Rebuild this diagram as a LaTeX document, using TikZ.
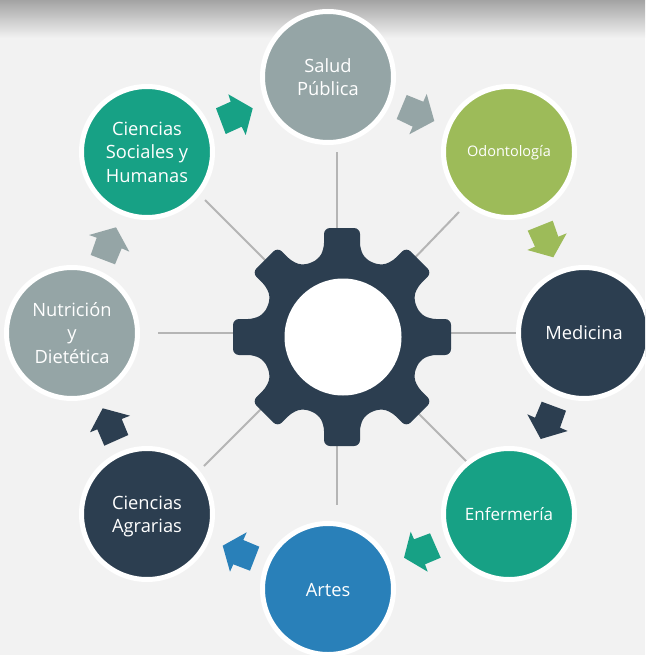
\documentclass[tikz,border=0pt]{standalone}
\usepackage{fontspec}
\setmainfont{Open Sans}
\definecolor{bgc}{HTML}{F2F2F2}
\definecolor{teal}{HTML}{17A185}
\definecolor{graygreen}{HTML}{95A5A6}
\definecolor{olive}{HTML}{9DBB59}
\definecolor{navy}{HTML}{2C3E50}
\definecolor{bluec}{HTML}{2980B9}
\definecolor{linec}{HTML}{B5B5B5}
\tikzset{
  disc/.style={circle,draw=white,line width=5pt,minimum size=131pt,inner sep=0pt,
    text=white,align=center,font=\fontsize{18.3}{23.5}\selectfont},
  spoke/.style={draw=linec,line width=2pt},
}
\begin{document}
\begin{tikzpicture}[x=1pt,y=-1pt]
\useasboundingbox (0,0) rectangle (645,655);
\clip (0,0) rectangle (645,655);
\fill[bgc] (0,0) rectangle (645,655);
\shade[top color=black!36,bottom color=bgc] (0,0) rectangle (645,38);
% spoke ends
\coordinate (hN) at (337,260); \coordinate (eN) at (337,152);
\coordinate (hS) at (337,420); \coordinate (eS) at (337,505);
\coordinate (hW) at (260,333); \coordinate (eW) at (158,333);
\coordinate (hE) at (430,333); \coordinate (eE) at (517,333);
\coordinate (hNW) at (275,270); \coordinate (eNW) at (205,200);
\coordinate (hNE) at (405,268); \coordinate (eNE) at (459,212);
\coordinate (hSE) at (405,400); \coordinate (eSE) at (467,462);
\coordinate (hSW) at (270,400); \coordinate (eSW) at (204,466);
\foreach \a/\b in {hN/eN,hS/eS,hW/eW,hE/eE,hNW/eNW,hNE/eNE,hSE/eSE,hSW/eSW}
  \draw[spoke] (\a) -- (\b);
% gear
\fill[navy,rounded corners=6pt] ([shift={(342,337)},rotate=-22.5]80.5,0)
  \foreach \a in {0,45,...,315} {
    -- ([shift={(342,337)},rotate=\a-17]81,0)
    -- ([shift={(342,337)},rotate=\a]88,18)
    -- ([shift={(342,337)},rotate=\a]109,18)
    -- ([shift={(342,337)},rotate=\a]109,-18)
    -- ([shift={(342,337)},rotate=\a]88,-18)
    -- ([shift={(342,337)},rotate=\a+17]81,0)
  } -- cycle;
\node[circle,fill=white,minimum size=117pt,inner sep=0pt] (hub) at (343,337) {};
% discs
\node[disc,fill=graygreen] (salud) at (328,77) {Salud\\Pública};
\node[disc,fill=olive,font=\fontsize{14.5}{18}\selectfont] (odonto) at (509,152) {\rule{0pt}{13pt}Odontología};
\node[disc,fill=navy] (medicina) at (584,333) {Medicina};
\node[disc,fill=teal,font=\fontsize{17}{23}\selectfont] (enfermeria) at (509,514) {Enfermería};
\node[disc,fill=bluec] (artes) at (328,589) {\rule{0pt}{16pt}Artes};
\node[disc,fill=navy] (agrarias) at (147,514) {\rule{0pt}{18pt}Ciencias\\Agrarias};
\node[disc,fill=graygreen] (nutricion) at (72,333) {Nutrición\\y\\Dietética};
\node[disc,fill=teal] (sociales) at (147,152) {Ciencias\\Sociales y\\Humanas};
% block arrows
\fill[teal] (228.3,94.3) -- (252.7,108.3) -- (245.7,135) -- (241.7,126.7) -- (225.7,134) -- (216,108.3) -- (230.7,101.7) -- cycle;
\fill[graygreen] (406.7,95) -- (423.3,101.7) -- (426.7,94) -- (434.3,121) -- (409.3,134.3) -- (412.7,126.7) -- (396.7,119) -- cycle;
\fill[olive] (527.7,230.7) -- (552.7,220.7) -- (558.3,236.7) -- (566.7,233.3) -- (553.3,257.3) -- (527.3,250) -- (535,246.7) -- cycle;
\fill[navy] (541.7,401.7) -- (566,410.7) -- (560,427.7) -- (567.7,431) -- (540.7,439) -- (527.3,414.3) -- (535,417.7) -- cycle;
\fill[teal] (430,533.3) -- (440.7,557.7) -- (425,564.3) -- (427.7,571.7) -- (404,557.7) -- (410.7,531.7) -- (414,539.3) -- cycle;
\fill[bluec] (259.3,546.7) -- (250,570.7) -- (233.3,564.3) -- (230,571.7) -- (222.7,545.7) -- (246.7,532.3) -- (243.3,540) -- cycle;
\fill[navy] (104.3,445.7) -- (128.3,435) -- (121.7,419) -- (130,415.7) -- (102.7,408.3) -- (90,432.3) -- (97.3,429.3) -- cycle;
\fill[graygreen] (115,264.3) -- (90.7,255) -- (96.7,237.7) -- (89,235) -- (116,227.3) -- (129.3,251.7) -- (121.7,248.3) -- cycle;
\end{tikzpicture}
\end{document}
